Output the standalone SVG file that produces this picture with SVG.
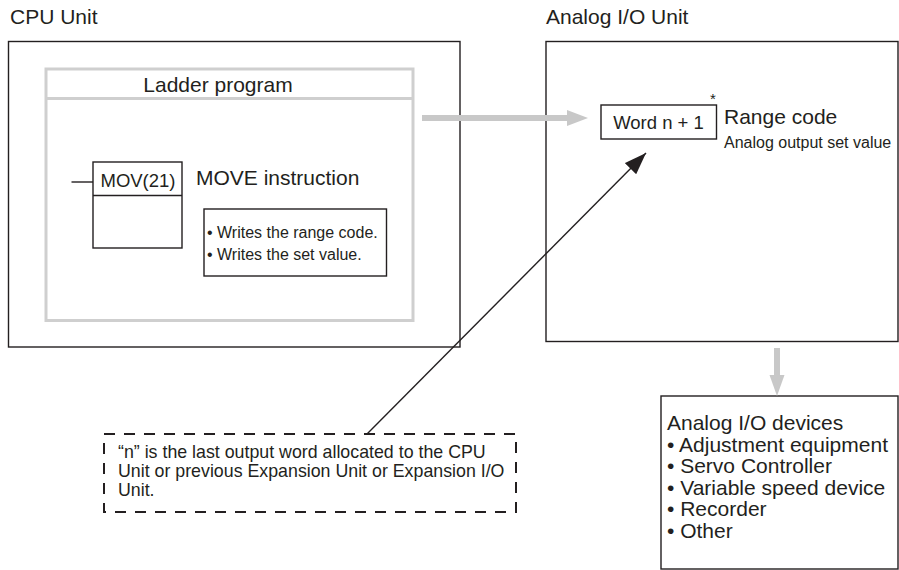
<svg xmlns="http://www.w3.org/2000/svg" width="899" height="570" viewBox="0 0 899 570">
<style>
text{font-family:"Liberation Sans",Arial,sans-serif;fill:#231f20}
.box{fill:#fff;stroke:#231f20;stroke-width:1.4}
.gray{fill:none;stroke:#cfcfcf;stroke-width:3}
.t21{font-size:21px}
.t16{font-size:16px}
.note{font-size:17.8px}
</style>
<defs>
<marker id="blk" viewBox="0 0 22 16" refX="22" refY="8" markerWidth="22" markerHeight="16" markerUnits="userSpaceOnUse" orient="auto"><path d="M0,0 L22,8 L0,16 Z" fill="#231f20"/></marker>
</defs>
<text class="t21" x="10" y="24">CPU Unit</text>
<text class="t21" x="546" y="24">Analog I/O Unit</text>
<g id="cpu">
<rect class="box" x="8.5" y="41.5" width="451.5" height="305.5"/>
</g>
<g id="ladder">
<rect class="gray" x="46" y="69" width="367" height="251.5"/>
<line class="gray" x1="46" y1="98.5" x2="413" y2="98.5"/>
<text class="t21" x="218" y="92" text-anchor="middle">Ladder program</text>
</g>
<g id="mov">
<line x1="71.5" y1="182" x2="93" y2="182" stroke="#231f20" stroke-width="1.4"/>
<rect class="box" x="93" y="162" width="89" height="86"/>
<line x1="93" y1="195.5" x2="182" y2="195.5" stroke="#231f20" stroke-width="1.4"/>
<text x="138" y="187" text-anchor="middle" style="font-size:18.5px">MOV(21)</text>
<text class="t21" x="196" y="185">MOVE instruction</text>
</g>
<g id="writes">
<rect class="box" x="204" y="209" width="182.5" height="67"/>
<text class="t16" x="207" y="238">• Writes the range code.</text>
<text class="t16" x="207" y="260">• Writes the set value.</text>
</g>
<g id="analog">
<rect class="box" x="546" y="41.5" width="352" height="300"/>
</g>
<g id="word">
<rect class="box" x="601" y="105" width="115.5" height="34"/>
<text x="658.5" y="129" text-anchor="middle" style="font-size:18.5px">Word n + 1</text>
<text x="710" y="104" style="font-size:15px">*</text>
<text class="t21" x="724" y="124">Range code</text>
<text class="t16" x="724" y="148">Analog output set value</text>
</g>
<g id="note">
<rect x="104" y="434" width="412" height="78" fill="#fff" stroke="#231f20" stroke-width="2" stroke-dasharray="11 9"/>
<text class="note" x="118" y="458">“n” is the last output word allocated to the CPU</text>
<text class="note" x="118" y="477">Unit or previous Expansion Unit or Expansion I/O</text>
<text class="note" x="118" y="496">Unit.</text>
</g>
<g id="devices">
<rect class="box" x="661" y="396" width="237" height="173"/>
<text class="t21" x="667" y="430">Analog I/O devices</text>
<text class="t21" x="667" y="452">• Adjustment equipment</text>
<text class="t21" x="667" y="473">• Servo Controller</text>
<text class="t21" x="667" y="495">• Variable speed device</text>
<text class="t21" x="667" y="516">• Recorder</text>
<text class="t21" x="667" y="538">• Other</text>
</g>
<g id="connectors">
<line x1="422" y1="118" x2="568" y2="118" stroke="#c8c8c8" stroke-width="6"/>
<path d="M567,110 L588,118 L567,126 Z" fill="#c8c8c8"/>
<line x1="777" y1="348" x2="777" y2="376" stroke="#c8c8c8" stroke-width="6"/>
<path d="M769.5,375 L777,396 L784.5,375 Z" fill="#c8c8c8"/>
<line x1="367" y1="434" x2="646" y2="153" stroke="#231f20" stroke-width="1.4" marker-end="url(#blk)"/>
</g>
</svg>
